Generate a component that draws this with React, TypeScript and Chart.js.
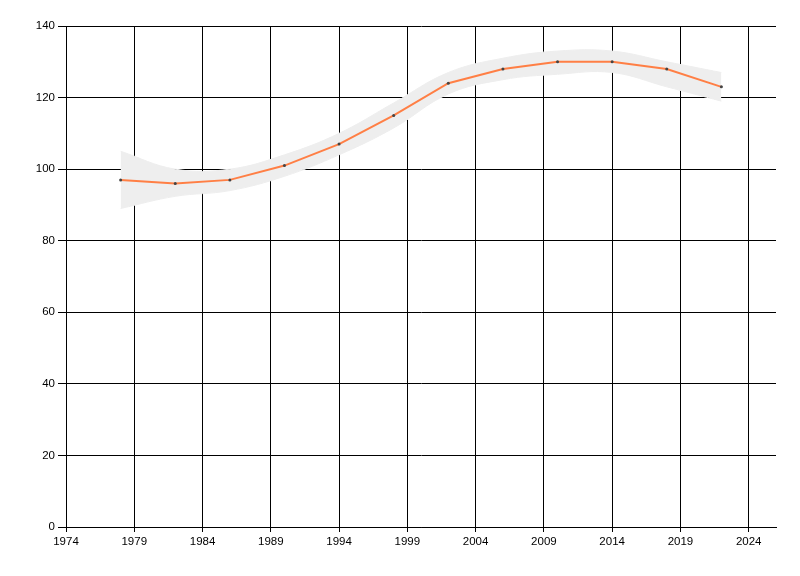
import React, { useEffect, useRef } from "react";
import { Chart, registerables } from "chart.js";

Chart.register(...registerables);

const years = [1978, 1982, 1986, 1990, 1994, 1998, 2002, 2006, 2010, 2014, 2018, 2022];
const values = [97, 96, 97, 101, 107, 115, 124, 128, 130, 130, 128, 123];
const upper = [105, 100, 100, 104, 110, 118.5, 127, 131, 133, 133, 130, 127];
const lower = [89, 92.4, 94, 98, 104, 111.5, 121, 125, 126.5, 127, 123, 119];
const xTicks = [1974, 1979, 1984, 1989, 1994, 1999, 2004, 2009, 2014, 2019, 2024];
const yTicks = [0, 20, 40, 60, 80, 100, 120, 140];

export default function App() {
  const ref = useRef<HTMLCanvasElement>(null);
  useEffect(() => {
    if (!ref.current) return;
    const pts = (arr: number[]) => years.map((x, i) => ({ x, y: arr[i] }));
    const font = { family: "'Liberation Sans', Arial, sans-serif", size: 11.5 };
    const chart = new Chart(ref.current, {
      type: "line",
      data: {
        datasets: [
          {
            data: pts(values),
            borderColor: "#ff7f45",
            borderWidth: 2,
            pointRadius: 1.5,
            pointBackgroundColor: "#444444",
            pointBorderWidth: 0,
            tension: 0,
            fill: false,
            order: 0,
          },
          {
            data: pts(upper),
            showLine: true,
            borderWidth: 1,
            borderColor: "#eeeeee",
            backgroundColor: "#eeeeee",
            pointRadius: 0,
            tension: 0.4,
            fill: "+1",
            order: 1,
          },
          {
            data: pts(lower),
            borderWidth: 1,
            borderColor: "#eeeeee",
            backgroundColor: "#eeeeee",
            pointRadius: 0,
            tension: 0.4,
            fill: false,
            order: 2,
          },
        ],
      },
      options: {
        responsive: false,
        animation: false,
        layout: { padding: { left: 0, right: 24, top: 26, bottom: 0 } },
        plugins: { legend: { display: false }, tooltip: { enabled: false } },
        scales: {
          x: {
            type: "linear",
            min: 1974,
            max: 2026,
            afterBuildTicks: (s: any) => {
              s.ticks = xTicks.map((v) => ({ value: v }));
            },
            afterFit: (s: any) => {
              s.height = 49;
            },
            grid: { color: "#000000", lineWidth: 1, tickLength: 5, drawTicks: true },
            border: { color: "#000000", width: 1 },
            ticks: { color: "#000000", font, padding: 3, maxRotation: 0, autoSkip: false, callback: (v: any) => String(v) },
          },
          y: {
            type: "linear",
            min: 0,
            max: 140,
            afterBuildTicks: (s: any) => {
              s.ticks = yTicks.map((v) => ({ value: v }));
            },
            afterFit: (s: any) => {
              s.width = 66;
            },
            grid: { color: "#000000", lineWidth: 1, tickLength: 8, drawTicks: true },
            border: { color: "#000000", width: 1 },
            ticks: { color: "#000000", font, padding: 3 },
          },
        },
      },
    });
    return () => chart.destroy();
  }, []);
  return (
    <div style={{ position: "fixed", left: 0, top: 0, width: 800, height: 576, background: "#ffffff" }}>
      <canvas ref={ref} width={800} height={576} />
    </div>
  );
}
